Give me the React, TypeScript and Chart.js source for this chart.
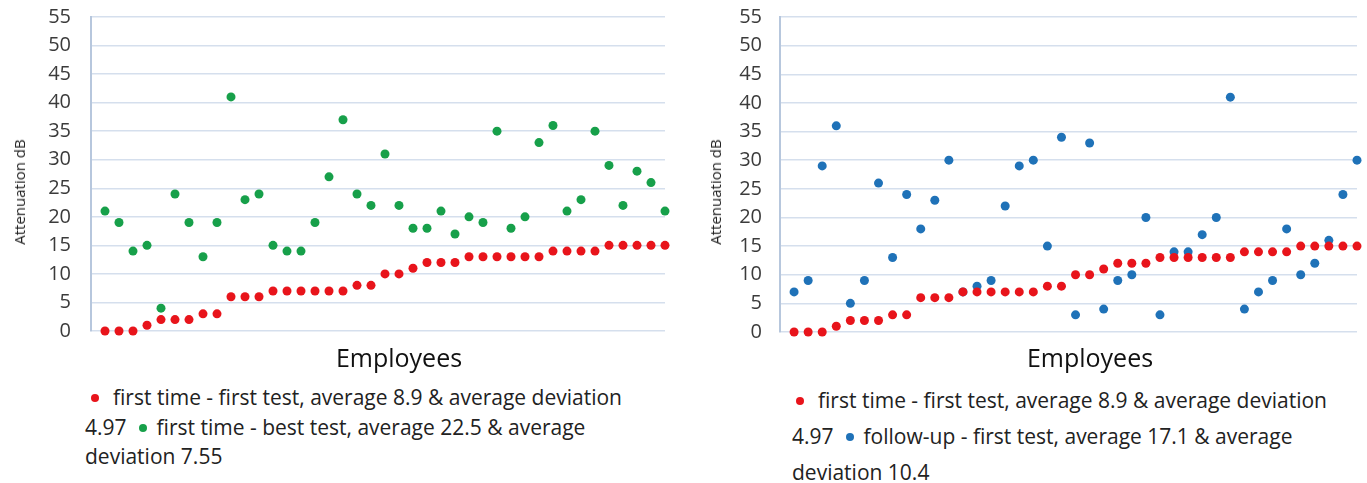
import { useEffect, useRef } from 'react'
import { Chart, registerables } from 'chart.js'

Chart.register(...registerables)

// Attenuation (dB) per employee, employees sorted by first test result
const firstTest = [
  0, 0, 0, 1, 2, 2, 2, 3, 3, 6, 6, 6, 7, 7, 7, 7, 7, 7, 8, 8, 10,
  10, 11, 12, 12, 12, 13, 13, 13, 13, 13, 13, 14, 14, 14, 14, 15, 15, 15, 15, 15
]
const bestTest = [
  21, 19, 14, 15, 4, 24, 19, 13, 19, 41, 23, 24, 15, 14, 14, 19, 27, 37, 24, 22, 31,
  22, 18, 18, 21, 17, 20, 19, 35, 18, 20, 33, 36, 21, 23, 35, 29, 22, 28, 26, 21
]
const followUp = [
  7, 9, 29, 36, 5, 9, 26, 13, 24, 18, 23, 30, 7, 8, 9, 22, 29, 30, 15, 34, 3,
  33, 4, 9, 10, 20, 3, 14, 14, 17, 20, 41, 4, 7, 9, 18, 10, 12, 16, 24, 30
]
const yTicks = [0, 5, 10, 15, 20, 25, 30, 35, 40, 45, 50, 55]

const RED = '#e8141b'
const GREEN = '#17a04a'
const BLUE = '#1f72b8'
const FONT = '"Open Sans", "Noto Sans", sans-serif'

interface Series {
  label: string
  values: number[]
  color: string
}

interface PanelProps {
  left: number
  width: number
  height: number
  axisWidth: number
  padRight: number
  tickPad: number
  series: Series[]
}

function AttenuationPanel({ left, width, height, axisWidth, padRight, tickPad, series }: PanelProps) {
  const canvasRef = useRef<HTMLCanvasElement>(null)

  useEffect(() => {
    if (!canvasRef.current) return
    const chart = new Chart(canvasRef.current, {
      type: 'scatter',
      data: {
        datasets: series.map(s => ({
          label: s.label,
          data: s.values.map((v, i) => ({ x: i + 1, y: v })),
          backgroundColor: s.color,
          borderWidth: 0,
          pointRadius: 4.5,
          pointHoverRadius: 4.5,
          clip: false as any
        }))
      },
      options: {
        animation: false,
        responsive: true,
        maintainAspectRatio: false,
        layout: { padding: { top: 17, right: padRight, bottom: 15, left: 0 } },
        plugins: {
          legend: { display: false },
          tooltip: { enabled: false }
        },
        scales: {
          x: { type: 'linear', min: 0, max: firstTest.length, display: false },
          y: {
            min: yTicks[0],
            max: yTicks[yTicks.length - 1],
            afterFit: (scale: any) => { scale.width = axisWidth },
            afterBuildTicks: (scale: any) => { scale.ticks = yTicks.map(v => ({ value: v })) },
            ticks: {
              padding: 0,
              color: '#3b3b3b',
              font: { family: FONT, size: 20 }
            },
            // invisible tick marks give the gap between labels and axis
            grid: {
              color: '#d5dfed',
              lineWidth: 1.5,
              drawTicks: true,
              tickLength: tickPad,
              tickColor: 'rgba(0,0,0,0)'
            },
            border: { display: true, color: '#b7c7dd', width: 2 }
          }
        }
      }
    })
    return () => chart.destroy()
  }, [series, axisWidth, padRight, tickPad])

  return (
    <div style={{ position: 'absolute', left, top: 0, width, height }}>
      <canvas ref={canvasRef}></canvas>
    </div>
  )
}

function Dot({ color, ml, mr }: { color: string; ml: number; mr: number }) {
  return (
    <span
      style={{
        display: 'inline-block',
        width: 8,
        height: 8,
        borderRadius: '50%',
        background: color,
        verticalAlign: 'middle',
        marginLeft: ml,
        marginRight: mr,
        position: 'relative',
        top: -1
      }}
    />
  )
}

const leftSeries: Series[] = [
  { label: 'first time - first test', values: firstTest, color: RED },
  { label: 'first time - best test', values: bestTest, color: GREEN }
]
const rightSeries: Series[] = [
  { label: 'first time - first test', values: firstTest, color: RED },
  { label: 'follow-up - first test', values: followUp, color: BLUE }
]

const centered = (x: number, y: number, rotate = false): React.CSSProperties => ({
  position: 'absolute',
  left: x,
  top: y,
  transform: `translate(-50%, -50%)${rotate ? ' rotate(-90deg)' : ''}`,
  whiteSpace: 'nowrap'
})

export default function App() {
  const legendText: React.CSSProperties = {
    position: 'absolute',
    top: 383,
    fontFamily: FONT,
    fontSize: 21,
    color: '#222',
    whiteSpace: 'nowrap'
  }

  return (
    <div style={{ position: 'absolute', left: 0, top: 0, width: 1367, height: 483, background: '#fff', overflow: 'hidden' }}>
      <AttenuationPanel left={0} width={680} height={346} axisWidth={91} padRight={15} tickPad={20} series={leftSeries} />
      <AttenuationPanel left={690} width={677} height={347} axisWidth={90} padRight={10} tickPad={18} series={rightSeries} />

      {/* axis titles */}
      <div style={{ ...centered(19, 192, true), fontFamily: FONT, fontSize: 15, color: '#222' }}>Attenuation dB</div>
      <div style={{ ...centered(715, 192, true), fontFamily: FONT, fontSize: 15, color: '#222' }}>Attenuation dB</div>
      <div style={{ ...centered(399, 357), fontFamily: FONT, fontSize: 25, color: '#111' }}>Employees</div>
      <div style={{ ...centered(1090, 357), fontFamily: FONT, fontSize: 25, color: '#111' }}>Employees</div>

      {/* legends */}
      <div style={{ ...legendText, left: 85, lineHeight: '29.5px' }}>
        <div><Dot color={RED} ml={6} mr={14} />first time - first test, average 8.9 &amp; average deviation</div>
        <div>4.97<Dot color={GREEN} ml={12} mr={10} />first time - best test, average 22.5 &amp; average</div>
        <div>deviation 7.55</div>
      </div>
      <div style={{ ...legendText, left: 792, top: 382, lineHeight: '36px' }}>
        <div><Dot color={RED} ml={4} mr={14} />first time - first test, average 8.9 &amp; average deviation</div>
        <div>4.97<Dot color={BLUE} ml={12} mr={10} />follow-up - first test, average 17.1 &amp; average</div>
        <div>deviation 10.4</div>
      </div>
    </div>
  )
}
